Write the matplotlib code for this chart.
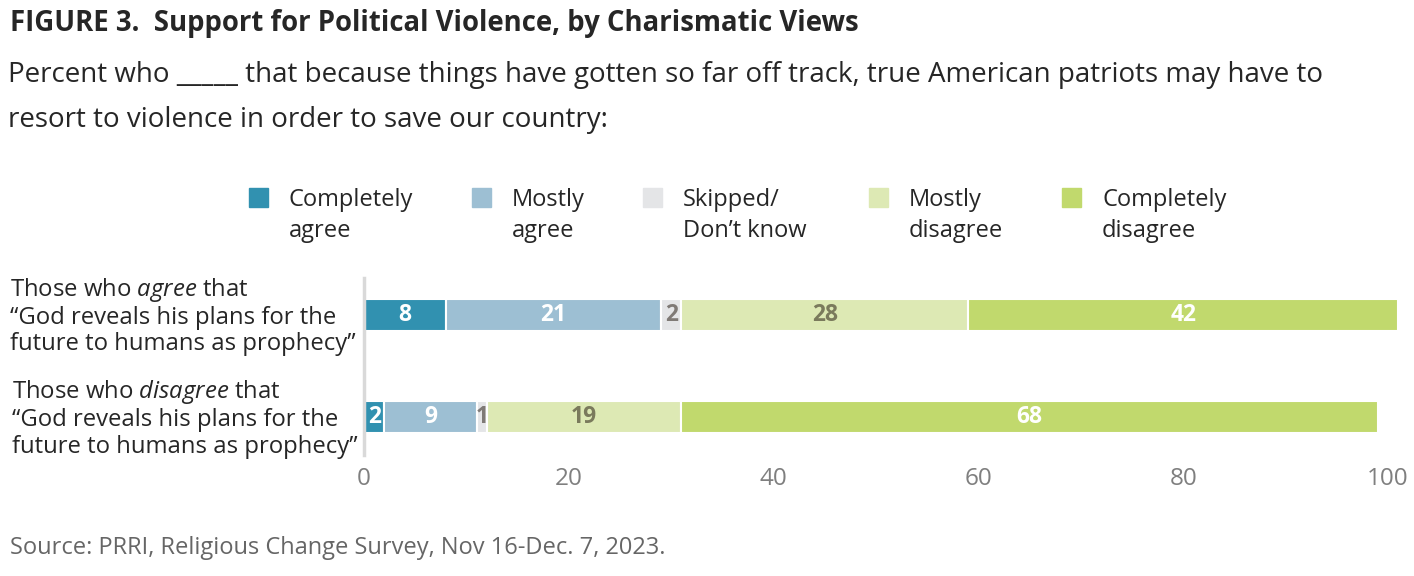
import numpy as np
import matplotlib.pyplot as plt
from matplotlib.patches import Rectangle

plt.rcParams['font.family'] = ['Open Sans', 'DejaVu Sans']
plt.rcParams['mathtext.fontset'] = 'custom'
plt.rcParams['mathtext.rm'] = 'Open Sans'
plt.rcParams['mathtext.it'] = 'Open Sans:italic'

# data
groups = ['Those who $\\mathit{agree}$ that\n\u201cGod reveals his plans for the\nfuture to humans as prophecy\u201d',
          'Those who $\\mathit{disagree}$ that\n\u201cGod reveals his plans for the\nfuture to humans as prophecy\u201d']
responses = ['Completely\nagree', 'Mostly\nagree', 'Skipped/\nDon\u2019t know',
             'Mostly\ndisagree', 'Completely\ndisagree']
completely_agree = [8, 2]
mostly_agree = [21, 9]
skipped = [2, 1]
mostly_disagree = [28, 19]
completely_disagree = [42, 68]
values = np.array([completely_agree, mostly_agree, skipped,
                   mostly_disagree, completely_disagree])

colors = ['#3191b0', '#9dbfd3', '#e4e5e7', '#dde9b4', '#c1d96d']
label_colors = ['white', 'white', '#7f7a76', '#7a7a5c', 'white']

W, H = 1414, 576
fig = plt.figure(figsize=(W / 100, H / 100), dpi=100)

ax_left = 364 / W
ax_right = 1388 / W
ax_top = 1 - 278 / H
ax_bot = 1 - 455 / H
ax = fig.add_axes([ax_left, ax_bot, ax_right - ax_left, ax_top - ax_bot])

y = np.arange(len(groups))
left = np.zeros(len(groups))
for i in range(len(responses)):
    bars = ax.barh(y, values[i], left=left, height=0.31, color=colors[i],
                   edgecolor='white', linewidth=1.5, clip_on=False)
    for j, v in enumerate(values[i]):
        ax.text(left[j] + v / 2, y[j], str(v), ha='center', va='center',
                fontsize=16.5, fontweight='bold', color=label_colors[i])
    left += values[i]

ax.set_xlim(0, 100)
ax.set_ylim(1.373, -0.363)
ax.set_xticks([0, 20, 40, 60, 80, 100])
ax.set_yticks([])
ax.tick_params(axis='x', length=0, pad=8.5, labelsize=17.5, labelcolor='#7f7f7f')
for s in ['top', 'right', 'bottom']:
    ax.spines[s].set_visible(False)
ax.spines['left'].set_color('#d9d9d9')
ax.spines['left'].set_linewidth(2.5)

# group labels
fig.text(10 / W, 1 - 276 / H, groups[0], ha='left', va='top', fontsize=17.2,
         color='#262626', linespacing=1.12)
fig.text(12 / W, 1 - 378 / H, groups[1], ha='left', va='top', fontsize=17.2,
         color='#262626', linespacing=1.13)

# legend
sq_x = [249, 472, 643, 869, 1062]
for i, lab in enumerate(responses):
    fig.add_artist(Rectangle((sq_x[i] / W, 1 - 207 / H), 19 / W, 19 / H,
                             transform=fig.transFigure, color=colors[i]))
    fig.text((sq_x[i] + 40) / W, 1 - 188 / H, lab, ha='left', va='top',
             fontsize=17, color='#262626', linespacing=1.41)

fig.text(10 / W, 1 - 23 / H, 'FIGURE 3.  Support for Political Violence, by Charismatic Views',
         ha='left', va='center', fontsize=19.8, fontweight='bold', color='#262626')
fig.text(8 / W, 1 - 61 / H,
         'Percent who _____ that because things have gotten so far off track, true American patriots may have to\n'
         'resort to violence in order to save our country:',
         ha='left', va='top', fontsize=20, color='#262626', linespacing=1.82)
fig.text(10 / W, 1 - 548 / H, 'Source: PRRI, Religious Change Survey, Nov 16-Dec. 7, 2023.',
         ha='left', va='center', fontsize=17, color='#666666')

fig.savefig('out.png', dpi=100)
